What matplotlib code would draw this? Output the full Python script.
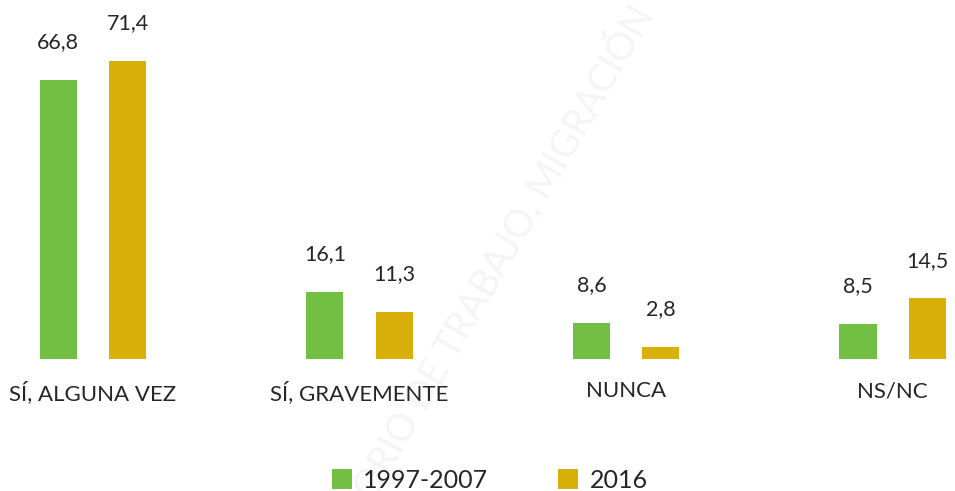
import numpy as np
import matplotlib.pyplot as plt

categories = ['SÍ, ALGUNA VEZ', 'SÍ, GRAVEMENTE', 'NUNCA', 'NS/NC']
series_names = ['1997-2007', '2016']
values_1997_2007 = [66.8, 16.1, 8.6, 8.5]
values_2016 = [71.4, 11.3, 2.8, 14.5]

green = '#72BF44'
gold = '#D9B00A'
text_color = '#262626'

plt.rcParams['font.family'] = ['Lato', 'DejaVu Sans']

fig = plt.figure(figsize=(9.55, 4.91), dpi=100)
ax = fig.add_axes([0, 0.2688, 1, 0.7312])

# faint watermark behind the chart
fig.text(0.475, 0.318, 'OBSERVATORIO DE TRABAJO, MIGRACIÓN', rotation=60,
         fontsize=27, color='#f5f5f5', ha='center', va='center',
         rotation_mode='anchor', zorder=-1)
ax.patch.set_alpha(0)

x = np.arange(len(categories))
w = 0.139
off = 0.13
b1 = ax.bar(x - off, values_1997_2007, w, color=green, label=series_names[0])
b2 = ax.bar(x + off, values_2016, w, color=gold, label=series_names[1])

def fmt(v):
    return f'{v:.1f}'.replace('.', ',')

for bars, vals in [(b1, values_1997_2007), (b2, values_2016)]:
    for rect, v in zip(bars, vals):
        ax.annotate(fmt(v), (rect.get_x() + rect.get_width() / 2, v),
                    xytext=(0, 20), textcoords='offset points',
                    ha='center', va='bottom', fontsize=15.5, color=text_color)

ax.set_xlim(-0.349, 3.234)
ax.set_ylim(0, 86)
ax.set_xticks(x)
ax.set_xticklabels(categories, fontsize=16, color=text_color)
ax.tick_params(axis='x', length=0, pad=16)
ax.set_yticks([])
for s in ax.spines.values():
    s.set_visible(False)

fig.legend(loc='center', bbox_to_anchor=(0.513, 0.022), ncol=2, frameon=False,
           fontsize=18, handlelength=0.8, handleheight=0.9, handletextpad=0.45,
           columnspacing=2.8, labelcolor=text_color)

fig.savefig('out.png', dpi=100)
